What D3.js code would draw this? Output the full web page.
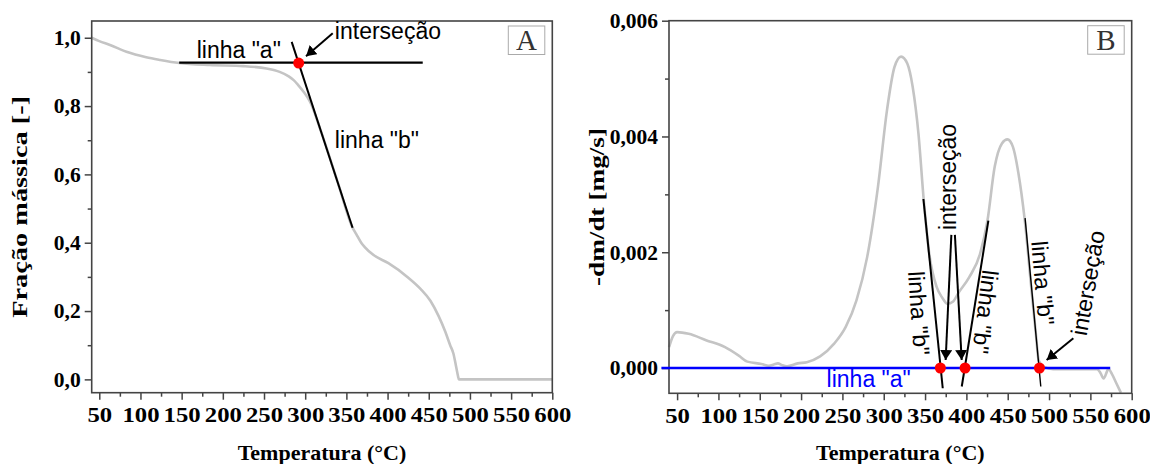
<!DOCTYPE html>
<html>
<head>
<meta charset="utf-8">
<script src="https://cdn.jsdelivr.net/npm/d3@7"></script>
<style>
  body { margin: 0; background: #fff; }
</style>
</head>
<body>
<div id="chart"></div>
<script>
// panel A: mass fraction (TGA)
const tempA = [40.8, 50, 63, 83, 107, 124, 147, 184, 225, 253, 269, 280, 286, 292, 298, 306, 320, 340, 357.5, 362, 368, 372, 383, 401, 424, 440, 452, 462, 470, 476, 480, 483, 485.5, 486.5, 600];
const massA = [1.0, 0.99, 0.979, 0.959, 0.943, 0.935, 0.926, 0.920, 0.917, 0.910, 0.900, 0.887, 0.876, 0.86, 0.842, 0.812, 0.72, 0.573, 0.444, 0.425, 0.40, 0.388, 0.364, 0.340, 0.300, 0.265, 0.23, 0.185, 0.14, 0.10, 0.075, 0.04, 0.01, 0, 0];

// panel B: -dm/dt (DTG)
const tempB = [40.3, 45, 50, 64, 85, 108, 125, 135, 152, 161, 167, 172, 177, 183, 196, 207, 223, 240, 254, 267, 280, 293, 304, 313, 321, 328.5, 335, 342, 348.4, 355, 364, 371, 377, 384, 390, 403.5, 416.7, 425.5, 434.3, 443, 449.7, 456.3, 463, 470.4, 478.4, 484, 487.5, 494, 505, 558, 562, 566, 572, 576, 581, 587];
const dtgB = [0.00036, 0.00055, 0.00062, 0.00059, 0.00048, 0.00036, 0.00021, 0.00011, 0.00007, 0.00004, 0.00006, 0.00008, 0.00005, 0.00003, 0.00008, 0.0001, 0.0002, 0.00042, 0.00071, 0.00117, 0.00192, 0.00313, 0.00446, 0.0052, 0.00538, 0.00526, 0.00486, 0.00405, 0.0029, 0.00198, 0.0014, 0.00121, 0.00111, 0.00115, 0.00129, 0.00157, 0.00198, 0.00255, 0.00348, 0.00388, 0.00395, 0.00382, 0.00336, 0.00258, 0.0014, 0.0006, 0.00013, 0.00002, -0.00002, -0.00002, -0.00008, -0.00018, -0.00002, -0.0001, -0.00025, -0.00043];

// ticks
const xTicks = [50, 100, 150, 200, 250, 300, 350, 400, 450, 500, 550, 600];
const xMinor = [75, 125, 175, 225, 275, 325, 375, 425, 475, 525, 575];
const yTicksA = [0, 0.2, 0.4, 0.6, 0.8, 1.0];
const yMinorA = [0.1, 0.3, 0.5, 0.7, 0.9];
const yTicksB = [0, 0.002, 0.004, 0.006];
const yMinorB = [0.001, 0.003, 0.005];

// tangent lines and intersections [temp, value]
const linhaA_A = [[147, 0.927], [442.7, 0.927]];
const linhaB_A = [[283.6, 0.988], [357.5, 0.444]];
const dotsA = [[292.1, 0.926]];

const linhaA_B = [[31, 0], [574, 0]];
const linhasB_B = [
  [[348, 0.00292], [371.4, -0.00035]],
  [[426.6, 0.002545], [394.4, -0.00032]],
  [[471, 0.00259], [490, -0.00032]]
];
const dotsB = [[368.5, 0], [398.4, 0], [488.4, 0]];

// arrows [from, to]
const arrowsA = [[[333.4, 1.013], [301, 0.946]]];
const arrowsB = [
  [[381.8, 0.0023], [374.9, 0.000138]],
  [[386.1, 0.0023], [394.3, 0.000138]],
  [[529.4, 0.000513], [497.1, 0.000138]]
];

const width = 1150;
const height = 464;

const pt = d3.formatLocale({decimal: ",", thousands: ".", grouping: [3], currency: ["", ""]});

const svg = d3.select("#chart")
  .append("svg")
  .attr("width", width)
  .attr("height", height);

svg.append("defs").append("marker")
  .attr("id", "arr")
  .attr("viewBox", "0 0 10 12")
  .attr("refX", 10).attr("refY", 6)
  .attr("markerWidth", 10).attr("markerHeight", 12)
  .attr("markerUnits", "userSpaceOnUse")
  .attr("orient", "auto")
  .append("path")
  .attr("d", "M0,0 L10,6 L0,12 Z")
  .attr("fill", "#000");

function drawPanel(p) {
  const x = d3.scaleLinear().domain(p.xDomain).range([p.left, p.right]);
  const y = d3.scaleLinear().domain(p.yDomain).range([p.bottom, p.top]);
  const g = svg.append("g");

  const line = d3.line().x(d => x(d[0])).y(d => y(d[1]));

  // data curve
  g.append("path")
    .datum(p.temps.map((t, i) => [t, p.vals[i]]))
    .attr("d", line.curve(d3.curveMonotoneX))
    .attr("fill", "none")
    .attr("stroke", "#c4c4c4")
    .attr("stroke-width", 2.6);
  line.curve(d3.curveLinear);

  // axes
  const xAx = g.append("g")
    .attr("transform", `translate(0,${p.bottom})`)
    .call(d3.axisBottom(x).tickValues(xTicks).tickSize(7).tickPadding(7).tickSizeOuter(0).tickFormat(d3.format("d")));
  g.append("g")
    .attr("transform", `translate(0,${p.bottom})`)
    .call(d3.axisBottom(x).tickValues(xMinor).tickSize(4).tickSizeOuter(0).tickFormat(""));
  g.append("g")
    .attr("transform", `translate(${p.left},0)`)
    .call(d3.axisLeft(y).tickValues(p.yTicks).tickSize(7).tickPadding(4).tickSizeOuter(0).tickFormat(pt.format(p.fmt)));
  g.append("g")
    .attr("transform", `translate(${p.left},0)`)
    .call(d3.axisLeft(y).tickValues(p.yMinor).tickSize(4).tickSizeOuter(0).tickFormat(""));

  g.selectAll(".domain").remove();
  g.selectAll(".tick line").attr("stroke", "#444").attr("stroke-width", 1.5);
  g.selectAll(".tick text")
    .attr("fill", "#000")
    .style("font-family", "'Liberation Serif', 'Times New Roman', serif")
    .style("font-weight", "bold")
    .style("font-size", "21.5px");
  // the x labels are a little wider in the original
  xAx.selectAll(".tick text").attr("transform", "scale(1.15,1)");

  // frame
  g.append("rect")
    .attr("x", p.left).attr("y", p.top)
    .attr("width", p.right - p.left).attr("height", p.bottom - p.top)
    .attr("fill", "none")
    .attr("stroke", "#444")
    .attr("stroke-width", 1.6);

  // panel letter
  g.append("rect")
    .attr("x", p.right - 44).attr("y", p.top + 5)
    .attr("width", 36.5).attr("height", 28.5)
    .attr("fill", "#fff")
    .attr("stroke", "#aaa")
    .attr("stroke-width", 1);
  g.append("text")
    .attr("x", p.right - 25.7).attr("y", p.top + 29)
    .attr("text-anchor", "middle")
    .style("font-family", "'Liberation Serif', 'Times New Roman', serif")
    .style("font-size", "29px")
    .attr("fill", "#333")
    .text(p.letter);

  // titles
  g.append("text")
    .attr("x", (p.left + p.right) / 2).attr("y", 460)
    .attr("text-anchor", "middle")
    .style("font-family", "'Liberation Serif', 'Times New Roman', serif")
    .style("font-weight", "bold")
    .style("font-size", "22px")
    .text("Temperatura (°C)");
  g.append("text")
    .attr("transform", `translate(${p.left - p.yTitleOff},${(p.top + p.bottom) / 2}) rotate(-90)`)
    .attr("text-anchor", "middle")
    .attr("textLength", p.yTitleLen)
    .attr("lengthAdjust", "spacingAndGlyphs")
    .style("font-family", "'Liberation Serif', 'Times New Roman', serif")
    .style("font-weight", "bold")
    .style("font-size", "22px")
    .text(p.yTitle);

  return {g, x, y, line};
}

function arrows(ctx, list) {
  ctx.g.selectAll(null)
    .data(list)
    .join("line")
    .attr("x1", d => ctx.x(d[0][0])).attr("y1", d => ctx.y(d[0][1]))
    .attr("x2", d => ctx.x(d[1][0])).attr("y2", d => ctx.y(d[1][1]))
    .attr("stroke", "#000")
    .attr("stroke-width", 2)
    .attr("marker-end", "url(#arr)");
}

function dots(ctx, list) {
  ctx.g.selectAll(null)
    .data(list)
    .join("circle")
    .attr("cx", d => ctx.x(d[0])).attr("cy", d => ctx.y(d[1]))
    .attr("r", 5.5)
    .attr("fill", "#ff0000");
}

function label(ctx, t, v, txt, rot, color) {
  const px = ctx.x(t), py = ctx.y(v);
  const el = ctx.g.append("text")
    .style("font-family", "'Liberation Sans', Arial, sans-serif")
    .style("font-size", "23px")
    .attr("fill", color || "#000")
    .text(txt);
  if (rot) {
    el.attr("transform", `translate(${px},${py}) rotate(${rot})`)
      .attr("text-anchor", "middle")
      .attr("dy", "0.35em");
  } else {
    el.attr("x", px).attr("y", py);
  }
}

// ---- panel A ----
const A = drawPanel({
  left: 91.7, right: 552.3, top: 21, bottom: 392.7,
  xDomain: [40.8, 600], yDomain: [-0.039, 1.049],
  temps: tempA, vals: massA,
  yTicks: yTicksA, yMinor: yMinorA, fmt: ".1f",
  letter: "A", yTitle: "Fração mássica [-]", yTitleOff: 65, yTitleLen: 222
});

A.g.append("path").datum(linhaA_A).attr("d", A.line)
  .attr("stroke", "#000").attr("stroke-width", 2.2).attr("fill", "none");
A.g.append("path").datum(linhaB_A).attr("d", A.line)
  .attr("stroke", "#000").attr("stroke-width", 2).attr("fill", "none");
dots(A, dotsA);
arrows(A, arrowsA);
label(A, 168.3, 0.94, 'linha "a"');
label(A, 336, 0.995, 'interseção');
label(A, 336, 0.676, 'linha "b"');

// ---- panel B ----
const B = drawPanel({
  left: 669, right: 1131.7, top: 20.7, bottom: 393.3,
  xDomain: [40.2, 600], yDomain: [-0.000437, 0.006],
  temps: tempB, vals: dtgB,
  yTicks: yTicksB, yMinor: yMinorB, fmt: ".3f",
  letter: "B", yTitle: "-dm/dt [mg/s]", yTitleOff: 65, yTitleLen: 158
});

B.g.selectAll(null)
  .data(linhasB_B)
  .join("path")
  .attr("d", B.line)
  .attr("stroke", "#000")
  .attr("stroke-width", (d, i) => i === 2 ? 1.4 : 2)
  .attr("fill", "none");
B.g.append("path").datum(linhaA_B).attr("d", B.line)
  .attr("stroke", "#0000ff").attr("stroke-width", 2.6).attr("fill", "none");
dots(B, dotsB);
arrows(B, arrowsB);
label(B, 230.9, -0.000323, 'linha "a"', 0, "#0000ff");
label(B, 342.6, 0.00095, 'linha "b"', 86);
label(B, 423, 0.00097, 'linha "b"', 97);
label(B, 492.6, 0.00147, 'linha "b"', 85);
label(B, 377.7, 0.0033, 'interseção', -90);
label(B, 547, 0.00147, 'interseção', -80);
</script>
</body>
</html>
